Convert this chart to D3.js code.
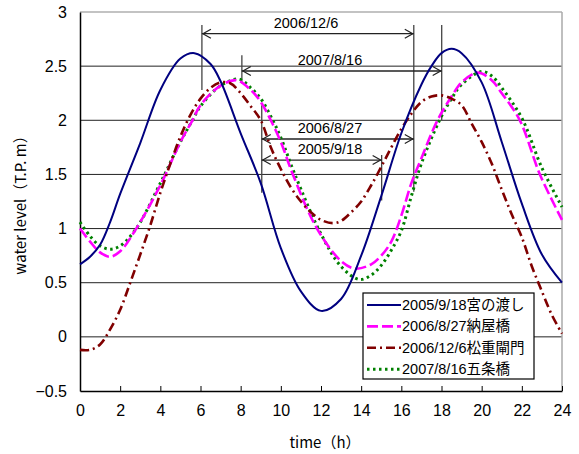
<!DOCTYPE html>
<html>
<head>
<meta charset="utf-8">
<script src="https://cdn.jsdelivr.net/npm/d3@7"></script>
<style>
  body { margin: 0; background: #fff; }
  text { font-family: "Liberation Sans", Arial, "Noto Sans CJK JP", sans-serif; fill: #000; }
</style>
</head>
<body>
<div id="chart"></div>
<script>
// region Data
const hoursBlue = [0, 0.5, 1, 1.5, 2, 3, 4, 5, 5.7, 6.5, 7, 8, 9, 10, 11, 12, 13, 14, 15, 16, 17, 17.5, 18, 18.5, 19, 20, 21, 22, 23, 24];
const levelBlue = [0.67, 0.74, 0.85, 1.06, 1.32, 1.79, 2.28, 2.57, 2.62, 2.52, 2.36, 1.88, 1.42, 0.82, 0.42, 0.24, 0.35, 0.75, 1.3, 1.88, 2.33, 2.5, 2.62, 2.66, 2.62, 2.35, 1.8, 1.23, 0.76, 0.5];

const hoursMagenta = [0, 0.5, 1, 1.5, 2, 2.8, 4, 5, 5.6, 6, 7, 7.8, 8.5, 9, 9.5, 10, 10.6, 11.8, 13, 13.7, 14.5, 15, 15.5, 16, 16.5, 17, 17.8, 18.5, 19, 19.8, 20.5, 21, 21.9, 22.9, 24];
const levelMagenta = [1.0, 0.88, 0.78, 0.74, 0.79, 1.0, 1.4, 1.8, 2.0, 2.14, 2.32, 2.37, 2.28, 2.17, 2.0, 1.8, 1.5, 1.0, 0.7, 0.63, 0.67, 0.75, 0.88, 1.12, 1.42, 1.65, 2.0, 2.22, 2.35, 2.44, 2.37, 2.25, 2.0, 1.5, 1.08];

const hoursRed = [0, 0.5, 1, 1.5, 2, 2.5, 3, 3.5, 4, 4.5, 5, 5.5, 6, 6.5, 7, 7.5, 8, 8.5, 9, 9.5, 10, 10.5, 11, 11.5, 12, 12.6, 13, 13.5, 14, 14.5, 15, 15.5, 16, 16.5, 17, 17.5, 18, 18.5, 19, 19.5, 20, 20.5, 21, 21.5, 22, 22.5, 23, 23.5, 24];
const levelRed = [-0.12, -0.12, -0.07, 0.07, 0.25, 0.5, 0.76, 1.03, 1.33, 1.6, 1.85, 2.05, 2.2, 2.3, 2.35, 2.34, 2.25, 2.13, 2.0, 1.75, 1.55, 1.38, 1.25, 1.15, 1.08, 1.05, 1.07, 1.15, 1.25, 1.4, 1.57, 1.75, 1.92, 2.06, 2.17, 2.22, 2.23, 2.2, 2.14, 1.97, 1.8, 1.6, 1.36, 1.13, 0.92, 0.65, 0.42, 0.2, 0.03];

const hoursGreen = [0, 0.5, 1, 1.5, 2, 2.8, 4, 5, 5.6, 6, 7, 7.9, 8.5, 9, 9.6, 10, 10.7, 12, 13, 13.9, 14.5, 15, 15.5, 16, 16.5, 17, 17.9, 18.5, 19, 20, 20.5, 21, 22, 23, 24];
const levelGreen = [1.06, 0.93, 0.84, 0.81, 0.84, 1.0, 1.42, 1.8, 2.0, 2.13, 2.32, 2.38, 2.3, 2.2, 2.0, 1.84, 1.5, 0.95, 0.65, 0.53, 0.57, 0.66, 0.8, 0.98, 1.3, 1.6, 2.0, 2.2, 2.33, 2.45, 2.41, 2.3, 2.02, 1.56, 1.2];

const seriesNames = ['2005/9/18宮の渡し', '2006/8/27納屋橋', '2006/12/6松重閘門', '2007/8/16五条橋'];

const xTicks = [0, 2, 4, 6, 8, 10, 12, 14, 16, 18, 20, 22, 24];
const yTicks = [-0.5, 0, 0.5, 1, 1.5, 2, 2.5, 3];

// arrows: label, from hour, to hour, level
const arrowLabels = ['2006/12/6', '2007/8/16', '2006/8/27', '2005/9/18'];
const arrowFrom = [6.07, 8.06, 9.05, 9.05];
const arrowTo = [16.62, 18.01, 16.62, 15.02];
const arrowLevel = [2.8, 2.455, 1.827, 1.633];

// vertical marker lines: hour, top level, bottom level
const markHour = [6.07, 8.06, 9.05, 15.02, 16.62, 18.01];
const markTop = [2.88, 2.6, 2.14, 1.68, 2.88, 2.88];
const markBottom = [2.28, 2.34, 1.33, 1.26, 1.34, 2.0];
// endregion

const W = 579, H = 454;
const L = 80, R = 562, T = 12, B = 391;

const svg = d3.select('#chart').append('svg')
    .attr('width', W).attr('height', H);

const x = d3.scaleLinear().domain([0, 24]).range([L, R]);
const y = d3.scaleLinear().domain([-0.5, 3]).range([B, T]);

// grid
svg.append('g')
    .selectAll('line')
    .data(yTicks.filter(v => v > -0.5 && v < 3))
    .enter().append('line')
    .attr('x1', L).attr('x2', R)
    .attr('y1', d => y(d)).attr('y2', d => y(d))
    .attr('stroke', '#222').attr('stroke-width', 1);

// frame top/right
svg.append('line').attr('x1', L).attr('x2', R).attr('y1', T).attr('y2', T)
    .attr('stroke', '#888').attr('stroke-width', 1.2);
svg.append('line').attr('x1', R).attr('x2', R).attr('y1', T).attr('y2', B)
    .attr('stroke', '#aaa').attr('stroke-width', 1.5);

// axes
const xAxis = svg.append('g')
    .attr('transform', `translate(0,${B})`)
    .call(d3.axisBottom(x).tickValues(xTicks).tickSizeInner(-5).tickSizeOuter(0).tickPadding(14));
xAxis.select('.domain').attr('stroke', '#000').attr('stroke-width', 1.5);
xAxis.selectAll('.tick line').attr('stroke', '#000');
xAxis.selectAll('text').style('font-size', '16px').attr('fill', '#000');

const yAxis = svg.append('g')
    .attr('transform', `translate(${L},0)`)
    .call(d3.axisLeft(y).tickValues(yTicks).tickSize(0).tickPadding(13)
        .tickFormat(d => d < 0 ? '\u2212' + Math.abs(d) : d));
yAxis.select('.domain').attr('stroke', '#000').attr('stroke-width', 1.5);
yAxis.selectAll('text').style('font-size', '16px').attr('fill', '#000');

// axis titles
svg.append('text')
    .attr('transform', `translate(26,${(T + B) / 2}) rotate(-90)`)
    .attr('text-anchor', 'middle')
    .style('font-size', '15px')
    .style('font-family', '"Noto Sans CJK JP", sans-serif')
    .text('water level（T.P. m）');
svg.append('text')
    .attr('x', 325).attr('y', 448)
    .attr('text-anchor', 'middle')
    .style('font-size', '15px')
    .style('font-family', '"Noto Sans CJK JP", sans-serif')
    .text('time（h）');

// markers and arrows
svg.append('g').selectAll('line')
    .data(markHour).enter().append('line')
    .attr('x1', d => x(d)).attr('x2', d => x(d))
    .attr('y1', (d, i) => y(markTop[i])).attr('y2', (d, i) => y(markBottom[i]))
    .attr('stroke', '#444').attr('stroke-width', 1.3);

const ag = svg.append('g');
arrowLabels.forEach((lab, i) => {
    const x1 = x(arrowFrom[i]), x2 = x(arrowTo[i]), yy = y(arrowLevel[i]);
    ag.append('line').attr('x1', x1).attr('x2', x2).attr('y1', yy).attr('y2', yy)
        .attr('stroke', '#222').attr('stroke-width', 1.3);
    ag.append('path')
        .attr('d', `M${x1 + 9},${yy - 4.5}L${x1 + 1},${yy}L${x1 + 9},${yy + 4.5}` +
            `M${x2 - 9},${yy - 4.5}L${x2 - 1},${yy}L${x2 - 9},${yy + 4.5}`)
        .attr('fill', 'none').attr('stroke', '#222').attr('stroke-width', 1.2);
});
const labelX = [306, 330, 330, 330];
ag.selectAll('text')
    .data(arrowLabels).enter().append('text')
    .attr('x', (d, i) => labelX[i])
    .attr('y', (d, i) => y(arrowLevel[i]) - 6)
    .attr('text-anchor', 'middle')
    .style('font-size', '14.5px')
    .text(d => d);

// curves
const line = d3.line().curve(d3.curveCatmullRom.alpha(0.5))
    .x(d => x(d[0])).y(d => y(d[1]));
const zip = (a, b) => a.map((v, i) => [v, b[i]]);

const styles = [
    {color: '#000080', dash: null, width: 2},
    {color: '#ff00ff', dash: '11,4', width: 2.6},
    {color: '#800000', dash: '9,4,2,4', width: 2.6},
    {color: '#008000', dash: '2.5,3.5', width: 3}
];
const seriesData = [
    zip(hoursBlue, levelBlue),
    zip(hoursMagenta, levelMagenta),
    zip(hoursRed, levelRed),
    zip(hoursGreen, levelGreen)
];
const plot = svg.append('g');
[3, 1, 2, 0].forEach(i => {
    plot.append('path')
        .datum(seriesData[i])
        .attr('d', line)
        .attr('fill', 'none')
        .attr('stroke', styles[i].color)
        .attr('stroke-width', styles[i].width)
        .attr('stroke-dasharray', styles[i].dash);
});

// legend
const lg = svg.append('g').attr('transform', 'translate(363,293)');
lg.append('rect').attr('width', 171).attr('height', 86)
    .attr('fill', '#fff').attr('stroke', '#000').attr('stroke-width', 1.2);
seriesNames.forEach((name, i) => {
    const yy = 12 + i * 21.4;
    lg.append('line').attr('x1', 4).attr('x2', 38).attr('y1', yy).attr('y2', yy)
        .attr('stroke', styles[i].color)
        .attr('stroke-width', styles[i].width)
        .attr('stroke-dasharray', styles[i].dash);
    lg.append('text').attr('x', 39).attr('y', yy + 5)
        .style('font-size', '14.5px')
        .style('font-family', '"Liberation Sans", "Noto Sans CJK JP", sans-serif')
        .text(name);
});
</script>
</body>
</html>
